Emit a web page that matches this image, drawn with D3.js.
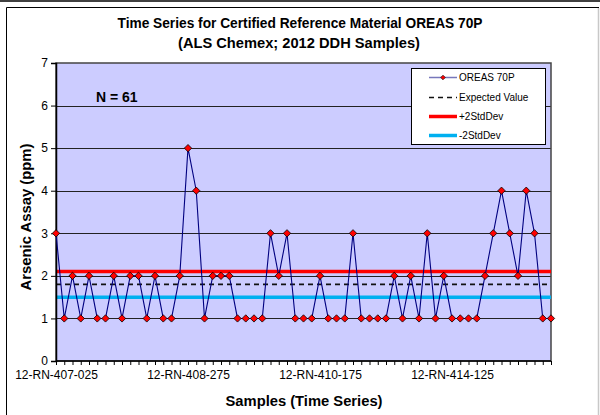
<!DOCTYPE html>
<html><head><meta charset="utf-8">
<script src="https://cdn.jsdelivr.net/npm/d3@7"></script>
<style>body{margin:0;background:#fff}svg{display:block;font-family:"Liberation Sans",Arial,sans-serif}</style>
</head><body>
<svg id="c" width="600" height="415"></svg>
<script>
const titleLines = ["Time Series for Certified Reference Material OREAS 70P", "(ALS Chemex; 2012 DDH Samples)"];
const seriesName = "OREAS 70P";
const arsenicValues = [3,1,2,1,2,1,1,2,1,2,2,1,2,1,1,2,5,4,1,2,2,2,1,1,1,1,3,2,3,1,1,1,2,1,1,1,3,1,1,1,1,2,1,2,1,3,1,2,1,1,1,1,2,3,4,3,2,4,3,1,1];
const expectedValue = [1.8];
const plus2SD = [2.1];
const minus2SD = [1.5];
const tickIndices = [0, 16, 32, 48];
const tickLabels = ["12-RN-407-025", "12-RN-408-275", "12-RN-410-175", "12-RN-414-125"];
const yTicks = [0,1,2,3,4,5,6,7];
const legendItems = ["OREAS 70P", "Expected Value", "+2StdDev", "-2StdDev"];

const svg = d3.select("#c");
const L = 56, R = 551, T = 63, B = 361;

// outer frame
svg.append("rect").attr("x",0).attr("y",0).attr("width",600).attr("height",2).attr("fill","#404040");
svg.append("line").attr("x1",6.5).attr("x2",599).attr("y1",7.5).attr("y2",7.5).attr("stroke","#000");
svg.append("line").attr("x1",6.5).attr("x2",6.5).attr("y1",7.5).attr("y2",415).attr("stroke","#000");
svg.append("line").attr("x1",598.5).attr("x2",598.5).attr("y1",8).attr("y2",415).attr("stroke","#c8c8c8").attr("stroke-width",1.5);

const x = d3.scalePoint().domain(d3.range(arsenicValues.length)).range([L, R]);
const y = d3.scaleLinear().domain([0, 7]).range([B, T]);

svg.append("rect").attr("x",L).attr("y",T).attr("width",R-L).attr("height",B-T).attr("fill","#CCCCFF");

// gridlines
svg.append("g").selectAll("line").data(yTicks.filter(d=>d>0 && d<7)).join("line")
  .attr("x1",L).attr("x2",R).attr("y1",d=>Math.round(y(d))+0.5).attr("y2",d=>Math.round(y(d))+0.5)
  .attr("stroke","#222").attr("stroke-width",1);

// plot border
svg.append("rect").attr("x",L).attr("y",T).attr("width",R-L).attr("height",B-T)
  .attr("fill","none").attr("stroke","#444").attr("stroke-width",1.5);

// reference lines
const refLine = (v, color, w, dash) => svg.append("line").attr("x1",L).attr("x2",R)
  .attr("y1",y(v)).attr("y2",y(v)).attr("stroke",color).attr("stroke-width",w).attr("stroke-dasharray",dash);
refLine(plus2SD[0], "#FF0000", 3.5, null);
refLine(expectedValue[0], "#111", 1.6, "5,4");
refLine(minus2SD[0], "#00B0F0", 3.5, null);

// axes
const yAxis = d3.axisLeft(y).tickValues(yTicks).tickSize(5).tickFormat(d3.format("d"));
const gy = svg.append("g").attr("transform",`translate(${L},0)`).call(yAxis);
gy.select(".domain").attr("stroke","#000").attr("stroke-width",1.5);
gy.selectAll(".tick line").attr("stroke","#000");
gy.selectAll(".tick text").attr("font-size",12).attr("fill","#000").attr("x",-8).attr("font-family","Liberation Sans, Arial, sans-serif");

const xAxis = d3.axisBottom(x).tickSize(4).tickFormat(i => { const k = tickIndices.indexOf(i); return k>=0 ? tickLabels[k] : ""; });
const gx = svg.append("g").attr("transform",`translate(0,${B})`).call(xAxis);
gx.select(".domain").attr("stroke","#000").attr("stroke-width",1.5).attr("d",`M${L},0H${R}`);
gx.selectAll(".tick line").attr("stroke","#000");
gx.selectAll(".tick text").attr("font-size",12).attr("fill","#000").attr("y",9).attr("font-family","Liberation Sans, Arial, sans-serif");

// series
svg.append("path").datum(arsenicValues)
  .attr("d", d3.line().x((d,i)=>x(i)).y(d=>y(d)))
  .attr("fill","none").attr("stroke","#000080").attr("stroke-width",1.1);
const diamond = d3.symbol().type(d3.symbolDiamond2).size(34);
svg.append("g").selectAll("path").data(arsenicValues).join("path")
  .attr("transform",(d,i)=>`translate(${x(i)},${y(d)})`)
  .attr("d", diamond).attr("fill","#FF0000").attr("stroke","#000").attr("stroke-width",0.8);

// N label
svg.append("text").attr("x",96).attr("y",102).attr("font-size",14).attr("font-weight","bold")
  .text("N = " + arsenicValues.length);

// legend
const lg = svg.append("g");
lg.append("rect").attr("x",411.5).attr("y",68.5).attr("width",134).attr("height",76)
  .attr("fill","#fff").attr("stroke","#000").attr("stroke-width",1);
const ly = [77.5, 97.5, 116.5, 135.5];
legendItems.forEach((name, i) => {
  const yy = ly[i];
  if (i === 0) {
    lg.append("line").attr("x1",429).attr("x2",457).attr("y1",yy).attr("y2",yy).attr("stroke","#7777BB").attr("stroke-width",1.5);
    lg.append("path").attr("transform",`translate(443,${yy})`).attr("d",d3.symbol().type(d3.symbolDiamond2).size(14)).attr("fill","#FF0000").attr("stroke","#000").attr("stroke-width",0.6);
  } else if (i === 1) {
    lg.append("line").attr("x1",429).attr("x2",457).attr("y1",yy).attr("y2",yy).attr("stroke","#111").attr("stroke-width",1.6).attr("stroke-dasharray","5,4");
  } else {
    lg.append("line").attr("x1",429).attr("x2",457).attr("y1",yy).attr("y2",yy).attr("stroke", i===2?"#FF0000":"#00B0F0").attr("stroke-width",3.5);
  }
  lg.append("text").attr("x",459).attr("y",yy+3.5).attr("font-size",10).text(name);
});

// titles
svg.append("text").attr("x",300).attr("y",28).attr("text-anchor","middle").attr("font-size",14).attr("font-weight","bold")
  .attr("textLength",365).attr("lengthAdjust","spacingAndGlyphs").text(titleLines[0]);
svg.append("text").attr("x",299).attr("y",48).attr("text-anchor","middle").attr("font-size",14).attr("font-weight","bold")
  .attr("textLength",242).attr("lengthAdjust","spacingAndGlyphs").text(titleLines[1]);
svg.append("text").attr("transform","translate(31,217) rotate(-90)").attr("text-anchor","middle").attr("font-size",14).attr("font-weight","bold")
  .attr("textLength",147).attr("lengthAdjust","spacingAndGlyphs").text("Arsenic Assay (ppm)");
svg.append("text").attr("x",304).attr("y",406).attr("text-anchor","middle").attr("font-size",14).attr("font-weight","bold")
  .attr("textLength",157).attr("lengthAdjust","spacingAndGlyphs").text("Samples (Time Series)");
</script>
</body></html>
